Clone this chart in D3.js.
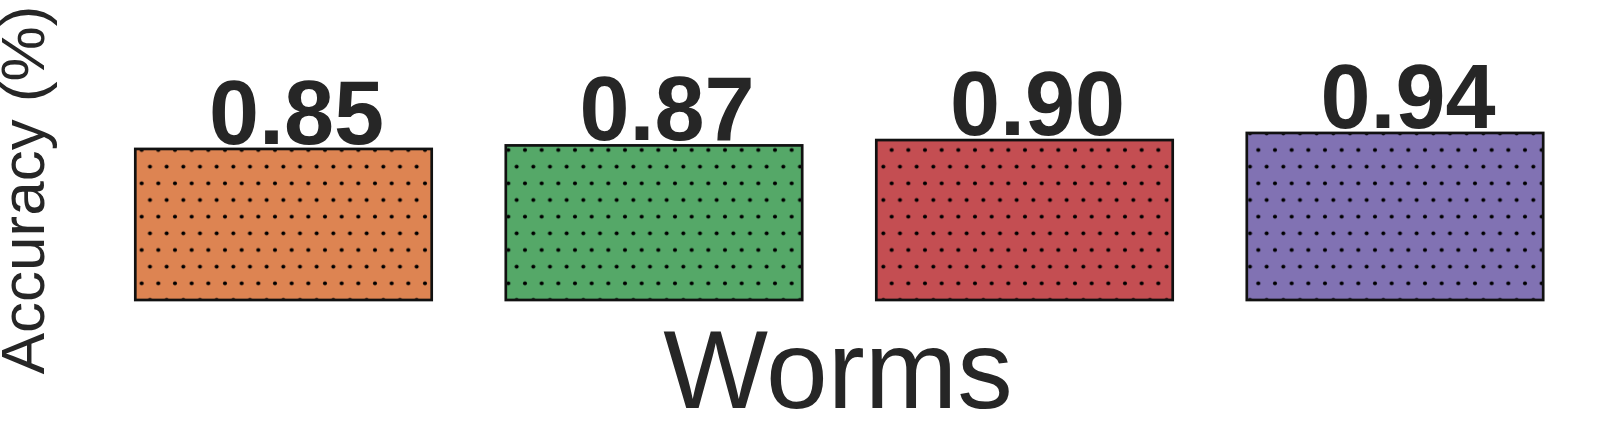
<!DOCTYPE html>
<html>
<head>
<meta charset="utf-8">
<script src="https://cdn.jsdelivr.net/npm/d3@7"></script>
<style>
  html, body { margin: 0; padding: 0; background: #ffffff; }
  svg { display: block; }
</style>
</head>
<body>
<script>
// ---- data ----
const categories = ["Model 1", "Model 2", "Model 3", "Model 4"];
const values = [0.85, 0.87, 0.90, 0.94];
const valueLabels = ["0.85", "0.87", "0.90", "0.94"];
const colors = ["#dd8452", "#55a868", "#c44e52", "#8172b3"];
const xLabel = "Worms";
const yLabel = "Accuracy (%)";

const W = 1614, H = 431;
const svg = d3.select("body").append("svg").attr("width", W).attr("height", H);

const x = d3.scaleBand().domain(categories).range([98.25, 1580.25])
  .paddingInner(0.2).paddingOuter(0.1);
const y = d3.scaleLinear().domain([0, 1]).range([300, 122.3]);

// dot hatch pattern
const defs = svg.append("defs");
const sp = 50 / 3;
const pat = defs.append("pattern").attr("id", "dots")
  .attr("patternUnits", "userSpaceOnUse")
  .attr("x", -sp / 2).attr("y", -sp / 2)
  .attr("width", sp).attr("height", sp * 2);
[[sp / 2, sp / 2], [0, sp * 1.5], [sp, sp * 1.5]].forEach(([cx, cy]) => {
  pat.append("circle").attr("cx", cx).attr("cy", cy).attr("r", 2.0).attr("fill", "#000");
});

const g = svg.append("g");
const bars = g.selectAll("g.bar").data(categories).join("g").attr("class", "bar");
bars.append("rect")
  .attr("x", d => x(d)).attr("width", x.bandwidth())
  .attr("y", (d, i) => y(values[i])).attr("height", (d, i) => y(0) - y(values[i]))
  .attr("fill", (d, i) => colors[i]);
bars.append("rect")
  .attr("x", d => x(d)).attr("width", x.bandwidth())
  .attr("y", (d, i) => y(values[i])).attr("height", (d, i) => y(0) - y(values[i]))
  .attr("fill", "url(#dots)")
  .attr("stroke", "#111").attr("stroke-width", 2.7);

bars.append("text")
  .attr("x", d => x(d) + x.bandwidth() / 2 + 13)
  .attr("y", (d, i) => y(values[i]) - 5)
  .attr("text-anchor", "middle")
  .attr("font-family", "'Liberation Sans', Arial, sans-serif")
  .attr("font-weight", "bold")
  .attr("font-size", 90)
  .attr("fill", "#262626")
  .text((d, i) => valueLabels[i]);

svg.append("text")
  .attr("x", 838).attr("y", 408)
  .attr("text-anchor", "middle")
  .attr("font-family", "'Liberation Sans', Arial, sans-serif")
  .attr("font-size", 111)
  .attr("fill", "#262626")
  .text(xLabel);

svg.append("text")
  .attr("transform", "translate(44,190) rotate(-90)")
  .attr("text-anchor", "middle")
  .attr("font-family", "'Liberation Sans', Arial, sans-serif")
  .attr("font-size", 62)
  .attr("fill", "#262626")
  .text(yLabel);
</script>
</body>
</html>
